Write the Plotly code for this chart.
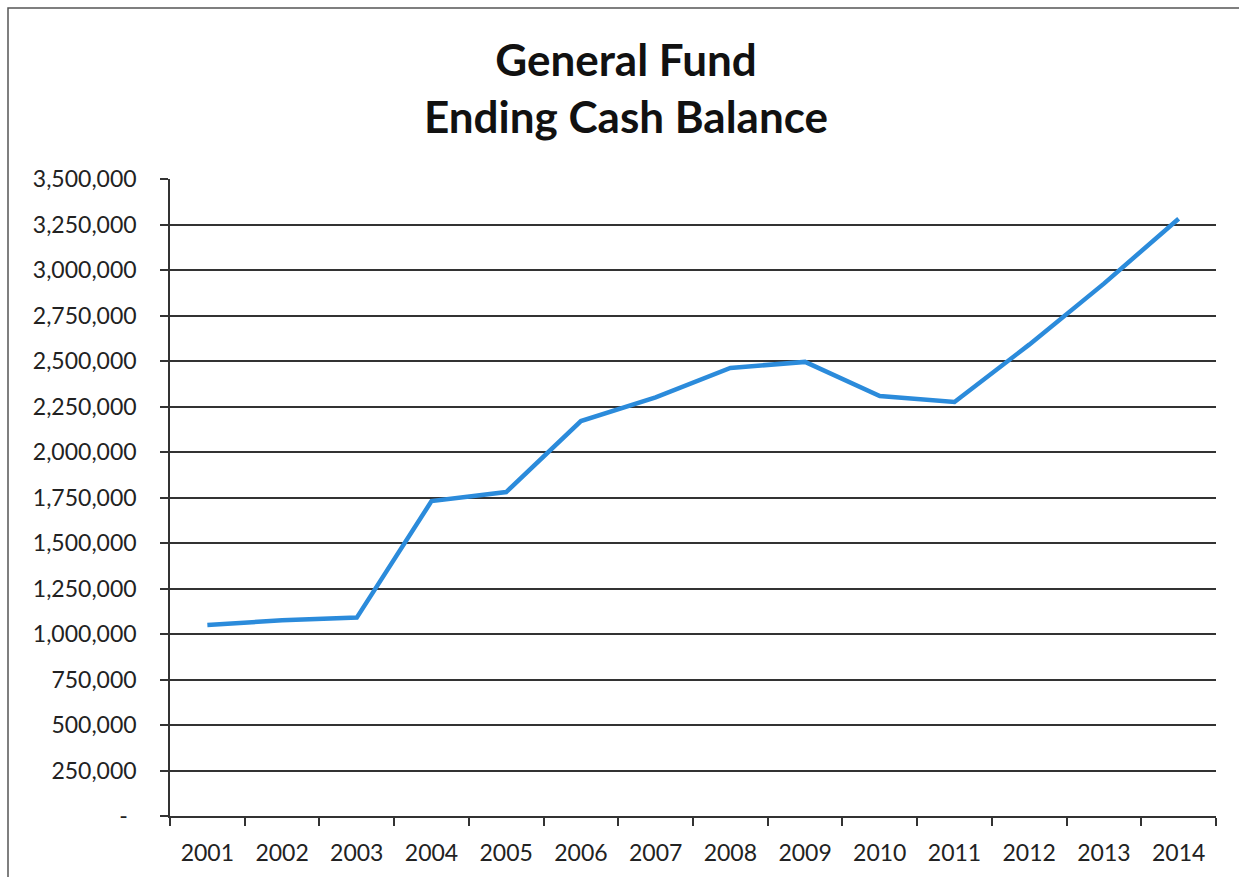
import plotly.graph_objects as go

years = ["2001", "2002", "2003", "2004", "2005", "2006", "2007",
         "2008", "2009", "2010", "2011", "2012", "2013", "2014"]
balance = [1050000, 1075000, 1090000, 1730000, 1780000, 2170000, 2300000,
           2462000, 2495000, 2308000, 2275000, 2590000, 2925000, 3282000]
ytick_vals = [0, 250000, 500000, 750000, 1000000, 1250000, 1500000, 1750000,
              2000000, 2250000, 2500000, 2750000, 3000000, 3250000, 3500000]
ytick_text = ["-\u00a0\u2009"] + [f"{v:,}" for v in ytick_vals[1:]]

W, H = 1239, 877
L, R, T, B = 170, 1216, 179, 816

fig = go.Figure()
fig.add_trace(go.Scatter(
    x=years, y=balance, mode="lines",
    line=dict(color="#2B8BDB", width=4.5),
    hoverinfo="x+y", showlegend=False,
))

font_family = "Lato, 'Open Sans', sans-serif"

fig.update_layout(
    width=W, height=H,
    margin=dict(l=L, r=W - R, t=T, b=H - B, pad=0),
    paper_bgcolor="white", plot_bgcolor="white",
    font=dict(family=font_family, color="#222222"),
    title=dict(
        text="<b>General Fund<br>Ending Cash Balance</b>",
        x=626 / W, xanchor="center", xref="container",
        y=1 - 76 / H, yanchor="middle", yref="container",
        font=dict(size=44, color="#111111", family=font_family),
    ),
    xaxis=dict(
        type="category",
        tickson="boundaries",
        ticks="outside", ticklen=8, tickwidth=1.5, tickcolor="#333333",
        showline=True, linecolor="#333333", linewidth=1.5,
        showgrid=False,
        tickfont=dict(size=23, color="#222222"),
        range=[-0.5, len(years) - 0.5],
        ticklabelstandoff=16,
    ),
    yaxis=dict(
        range=[0, 3500000],
        tickvals=ytick_vals, ticktext=ytick_text,
        ticks="outside", ticklen=8, tickwidth=1.5, tickcolor="#333333",
        showline=True, linecolor="#333333", linewidth=1.5,
        showgrid=True, gridcolor="#333333", gridwidth=1.5,
        zeroline=False,
        tickfont=dict(size=23, color="#222222"),
        ticklabelstandoff=19,
    ),
)

# outer chart border
pw = R - L
ph = B - T
fig.add_shape(
    type="rect", xref="paper", yref="paper",
    x0=(8 - L) / pw, x1=(1245 - L) / pw,
    y0=(B - 885) / ph, y1=(B - 8) / ph,
    line=dict(color="#555555", width=1.5), fillcolor="rgba(0,0,0,0)",
    layer="below",
)

fig.write_html("out.html")
